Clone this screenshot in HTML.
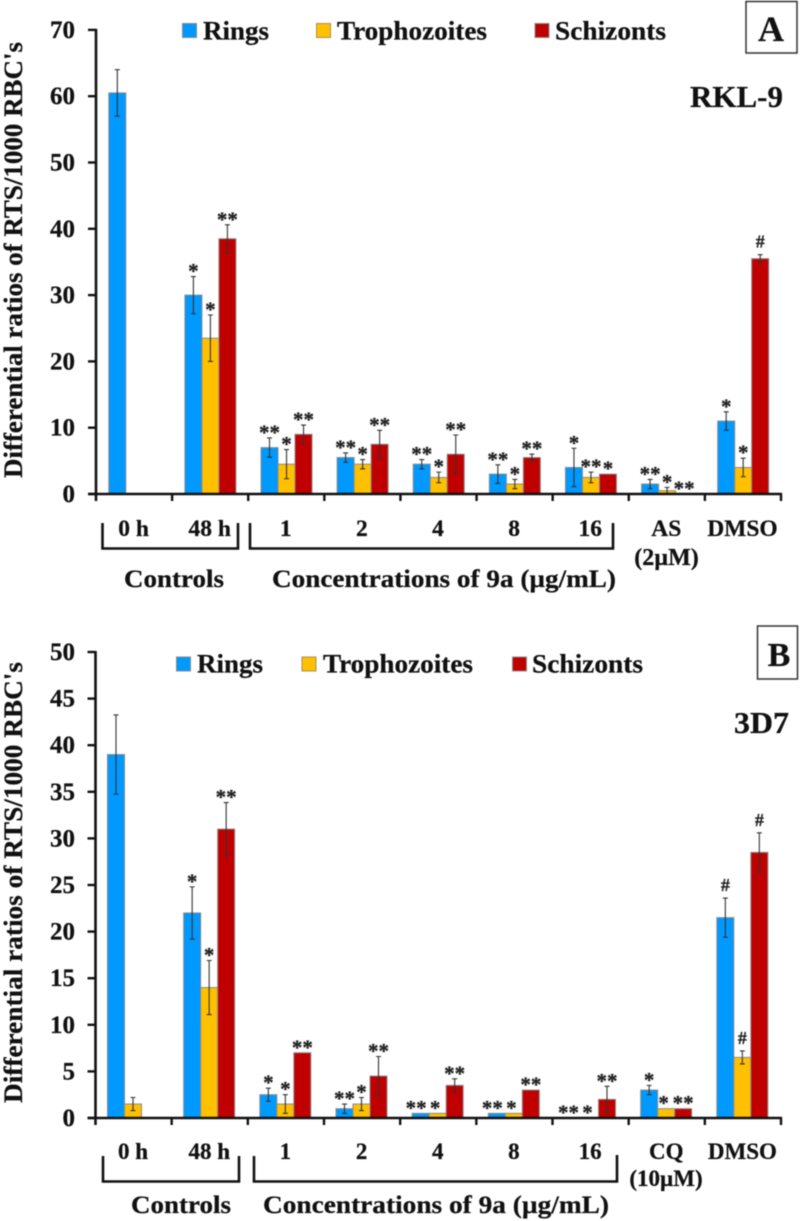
<!DOCTYPE html>
<html>
<head>
<meta charset="utf-8">
<title>Differential ratios of RTS per 1000 RBC</title>
<style>
html,body{margin:0;padding:0;background:#fff;width:800px;height:1221px;overflow:hidden}
svg{display:block;filter:blur(0.45px)}
text{font-family:"Liberation Serif",serif;font-weight:bold;fill:#111;stroke:#111;stroke-width:0.25px}
</style>
</head>
<body>
<svg id="fig" width="800" height="1221" viewBox="0 0 800 1221" xmlns="http://www.w3.org/2000/svg">
  <g>
    <text transform="translate(22,478) rotate(-90)" font-size="26" textLength="436" lengthAdjust="spacingAndGlyphs">Differential ratios of RTS/1000 RBC's</text>
    <rect x="182.5" y="23.5" width="14" height="14" fill="#0099ff" stroke="#8a8a8a"/>
    <text x="203" y="39.5" font-size="26" textLength="66" lengthAdjust="spacingAndGlyphs">Rings</text>
    <rect x="316.5" y="23.5" width="14" height="14" fill="#ffc000" stroke="#a89050"/>
    <text x="337" y="39.5" font-size="26" textLength="150" lengthAdjust="spacingAndGlyphs">Trophozoites</text>
    <rect x="535" y="23.5" width="14" height="14" fill="#c00000" stroke="#8a8a8a"/>
    <text x="555" y="39.5" font-size="26" textLength="111" lengthAdjust="spacingAndGlyphs">Schizonts</text>
    <rect x="746" y="1.5" width="51" height="51.5" fill="#fff" stroke="#333" stroke-width="1.5"/>
    <text x="771" y="41" font-size="36" text-anchor="middle">A</text>
    <text x="690" y="107" font-size="31" textLength="93" lengthAdjust="spacingAndGlyphs">RKL-9</text>
    <path d="M102.5 523V548.5H238V523" fill="none" stroke="#111" stroke-width="2.6"/>
    <path d="M250 523V548.5H613V523" fill="none" stroke="#111" stroke-width="2.6"/>
    <text x="124" y="587" font-size="25" textLength="100" lengthAdjust="spacingAndGlyphs">Controls</text>
    <text x="272" y="587" font-size="25" textLength="344" lengthAdjust="spacingAndGlyphs">Concentrations of 9a (µg/mL)</text>
    <text x="666.5" y="565" font-size="24" text-anchor="middle">(2µM)</text>
  </g>
  <g>
    <text transform="translate(22,1103) rotate(-90)" font-size="26" textLength="441" lengthAdjust="spacingAndGlyphs">Differential ratios of RTS/1000 RBC's</text>
    <rect x="176.5" y="657" width="14" height="14" fill="#0099ff" stroke="#8a8a8a"/>
    <text x="197" y="672.5" font-size="26" textLength="66" lengthAdjust="spacingAndGlyphs">Rings</text>
    <rect x="302" y="657" width="14" height="14" fill="#ffc000" stroke="#a89050"/>
    <text x="323" y="672.5" font-size="26" textLength="150" lengthAdjust="spacingAndGlyphs">Trophozoites</text>
    <rect x="512.5" y="657" width="14" height="14" fill="#c00000" stroke="#8a8a8a"/>
    <text x="532" y="672.5" font-size="26" textLength="111" lengthAdjust="spacingAndGlyphs">Schizonts</text>
    <rect x="757.5" y="626" width="40" height="53" fill="#fff" stroke="#333" stroke-width="1.5"/>
    <text x="779" y="666" font-size="34" text-anchor="middle">B</text>
    <text x="734" y="733" font-size="31" textLength="55" lengthAdjust="spacingAndGlyphs">3D7</text>
    <path d="M103 1156V1181.5H239V1156" fill="none" stroke="#111" stroke-width="2.6"/>
    <path d="M254 1156V1181.5H617V1155" fill="none" stroke="#111" stroke-width="2.6"/>
    <text x="131" y="1213" font-size="25" textLength="100" lengthAdjust="spacingAndGlyphs">Controls</text>
    <text x="263" y="1213" font-size="25" textLength="346" lengthAdjust="spacingAndGlyphs">Concentrations of 9a (µg/mL)</text>
    <text x="666" y="1186" font-size="23" text-anchor="middle">(10µM)</text>
  </g>
</svg>
<script>
// Panel A (RKL-9) data
var categoriesA = ['0 h','48 h','1','2','4','8','16','AS','DMSO'];
var yTicksA = [0,10,20,30,40,50,60,70];
var ringsA = [60.5,30,7,5.5,4.5,3,4,1.5,11];
var ringsErrA = [3.5,2.8,1.45,0.7,0.7,1.4,2.9,0.7,1.4];
var ringsMarkA = ['','*','**','**','**','**','*','**','*'];
var trophA = [0,23.5,4.5,4.5,2.5,1.5,2.5,0.5,4];
var trophErrA = [0,3.5,2.2,0.7,0.8,0.7,0.8,0.5,1.4];
var trophMarkA = ['','*','*','*','*','*','**','*','*'];
var schizA = [0,38.5,9,7.5,6,5.5,3,0,35.5];
var schizErrA = [0,2.1,1.4,2.1,2.9,0.5,0,0,0.6];
var schizMarkA = ['','**','**','**','**','**','*','**','#'];

// Panel B (3D7) data
var categoriesB = ['0 h','48 h','1','2','4','8','16','CQ','DMSO'];
var yTicksB = [0,5,10,15,20,25,30,35,40,45,50];
var ringsB = [39,22,2.5,1,0.5,0.5,0,3,21.5];
var ringsErrB = [4.25,2.8,0.7,0.5,0,0,0,0.5,2.1];
var ringsMarkB = ['','*','*','**','**','**','**','*','#'];
var trophB = [1.5,14,1.5,1.5,0.5,0.5,0,1,6.5];
var trophErrB = [0.7,2.9,1,0.7,0,0,0,0,0.7];
var trophMarkB = ['','*','*','*','*','*','*','*','#'];
var schizB = [0,31,7,4.5,3.5,3,2,1,28.5];
var schizErrB = [0,2.85,0,2.1,0.7,0,1.4,0,2.1];
var schizMarkB = ['','**','**','**','**','**','**','**','#'];

var NS = 'http://www.w3.org/2000/svg';
var fig = document.getElementById('fig');
var colorRings = '#0099ff', colorTroph = '#ffc000', colorSchiz = '#c00000';

function mk(tag, attrs, parent, txt){
  var e = document.createElementNS(NS, tag);
  for (var k in attrs) e.setAttribute(k, attrs[k]);
  if (txt !== undefined) e.textContent = txt;
  parent.appendChild(e);
  return e;
}

function drawPanel(p){
  var g = mk('g', {}, fig);
  
  
  var n = p.categories.length;
  var step = (p.xEnd - p.x0) / n;
  var yOf = function(v){ return p.y0 - v * p.pxPerUnit; };
  var xOf = function(i){ return p.x0 + i * step; };
  var yMax = p.yTicks[p.yTicks.length - 1];

  p.series.forEach(function(s, si){
    s.values.forEach(function(v, i){
      var x = xOf(i) + p.barOffset + si * p.barW;
      var bar = mk('rect', {x: x, y: yOf(v), width: p.barW, height: p.y0 - yOf(v), fill: s.color, stroke: '#8a8a8a', 'stroke-width': 1}, g);
      
      
    });
  });
  p.series.forEach(function(s, si){
    s.values.forEach(function(v, i){
      var cx = xOf(i) + p.barOffset + si * p.barW + p.barW / 2;
      var err = s.errs[i];
      if (err > 0) {
        var top = yOf(v + err), bot = yOf(Math.max(v - err, 0));
        var eb = mk('path', {d: 'M' + cx + ' ' + top + 'V' + bot + 'M' + (cx - 2.5) + ' ' + top + 'H' + (cx + 2.5) + 'M' + (cx - 2.5) + ' ' + bot + 'H' + (cx + 2.5), fill: 'none', stroke: '#333', 'stroke-width': 1.1}, g);
        
        
      }
      var mark = s.marks[i];
      if (mark) {
        var ey = yOf(v + err);
        var isHash = mark === '#';
        var nudge = 0;
        if (err === 0 && si === 0) nudge = -4.5;
        if (err === 0 && si === 1) nudge = -2.5;
        var t = mk('text', {x: cx + nudge, y: isHash ? ey - 7 : ey + 1.5, 'font-size': isHash ? 18 : 21, 'text-anchor': 'middle'}, g, mark);
        t.style.fill = '#222';
        
        
      }
    });
  });

  var yAxis = mk('line', {x1: p.x0, x2: p.x0, y1: yOf(yMax) - 1, y2: p.y0 + 7, stroke: '#111', 'stroke-width': 2.6}, g);
  
  
  var xAxis = mk('line', {x1: p.x0 - 8, x2: p.xEnd + 1, y1: p.y0, y2: p.y0, stroke: '#111', 'stroke-width': 2.6}, g);
  
  

  p.yTicks.forEach(function(v){
    var tk = mk('line', {x1: p.x0 - 8, x2: p.x0, y1: yOf(v), y2: yOf(v), stroke: '#111', 'stroke-width': 2.4}, g);
    
    
    var lb = mk('text', {x: 75, y: yOf(v) + 8, 'font-size': 25, 'text-anchor': 'end'}, g, String(v));
    
    
  });
  for (var i = 1; i <= n; i++) {
    var xt = mk('line', {x1: xOf(i), x2: xOf(i), y1: p.y0, y2: p.y0 + 7, stroke: '#111', 'stroke-width': 2.4}, g);
    
    
  }
  p.categories.forEach(function(c, i){
    var cl = mk('text', {x: xOf(i) + step / 2 - 0.5, y: p.labelY, 'font-size': p.labelSize, 'text-anchor': 'middle'}, g, c);
    
    
  });
}

drawPanel({
  categories: categoriesA, yTicks: yTicksA, x0: 96, xEnd: 781, y0: 494, pxPerUnit: 6.63,
  barOffset: 12.8, barW: 17, labelY: 536, labelSize: 23.5,
  series: [
    {values: ringsA, errs: ringsErrA, marks: ringsMarkA, color: colorRings},
    {values: trophA, errs: trophErrA, marks: trophMarkA, color: colorTroph},
    {values: schizA, errs: schizErrA, marks: schizMarkA, color: colorSchiz}
  ]
});
drawPanel({
  categories: categoriesB, yTicks: yTicksB, x0: 95.5, xEnd: 781, y0: 1118, pxPerUnit: 9.32,
  barOffset: 12, barW: 17, labelY: 1159, labelSize: 23,
  series: [
    {values: ringsB, errs: ringsErrB, marks: ringsMarkB, color: colorRings},
    {values: trophB, errs: trophErrB, marks: trophMarkB, color: colorTroph},
    {values: schizB, errs: schizErrB, marks: schizMarkB, color: colorSchiz}
  ]
});
</script>
</body>
</html>
